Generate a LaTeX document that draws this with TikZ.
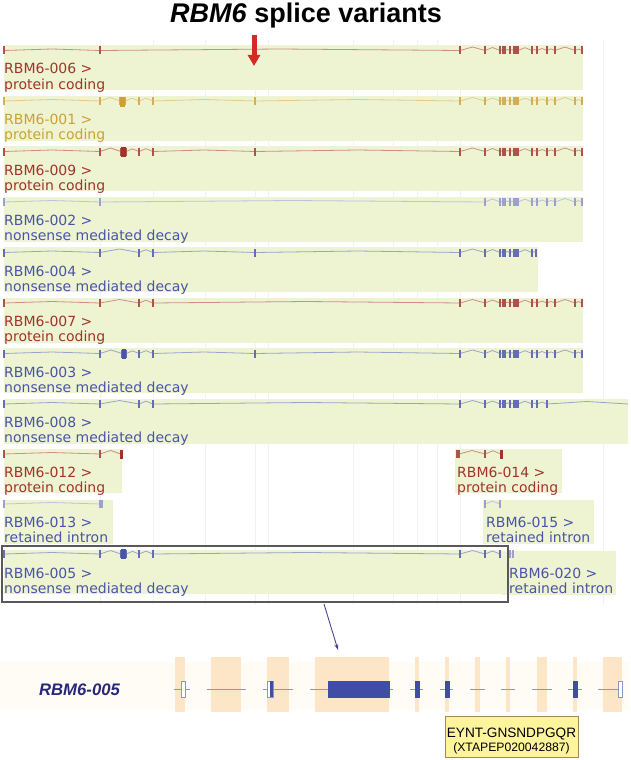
\documentclass[tikz,border=0pt]{standalone}
\usepackage{fontspec}
\setmainfont{DejaVu Sans}
\newfontfamily\arialf{Liberation Sans}
\usetikzlibrary{arrows.meta}
\definecolor{bg}{HTML}{EEF4D2}
\definecolor{pc}{HTML}{A0342C}
\definecolor{gd}{HTML}{CDA033}
\definecolor{nb}{HTML}{4A54A6}
\colorlet{nbl}{nb!65}
\definecolor{peach}{HTML}{FDE5C7}
\definecolor{band}{HTML}{FFFCF5}
\definecolor{navy}{HTML}{28287A}
\definecolor{lblue}{HTML}{8C94C8}
\definecolor{dblue}{HTML}{3F4DA6}
\definecolor{labfill}{HTML}{FDF49C}
\definecolor{labdraw}{HTML}{A88850}
\definecolor{arrred}{HTML}{D42A24}
\tikzset{
  rowbox/.style={fill=bg, draw=none},
  rowtext/.style={anchor=base west, inner sep=0pt, font=\fontsize{14}{16}\selectfont},
  grid line/.style={draw=black!5, line width=0.6},
  peachcol/.style={fill=peach, draw=none},
  strand/.style={draw=lblue, line width=0.9},
  cds/.style={fill=dblue, draw=dblue, line width=0.4},
  utr/.style={fill=white, draw=lblue, line width=0.8},
}
\newcommand\track[4]{%
  \foreach \xx [remember=\xx as \px (initially #3)] in {#4} {
    \pgfmathsetmacro\dd{\xx-\px}
    \pgfmathsetmacro\hh{(\dd>60)?1.5:min(3.5,\dd/5)}
    \draw[#2!55, line width=0.8] (\px,#1) -- ({(\px+\xx)/2},#1-\hh) -- (\xx,#1);
  }
  \foreach \xx in {#3,#4} \draw[#2!85, line width=1.1] (\xx,#1-4) -- (\xx,#1+4);
}
\begin{document}
\begin{tikzpicture}[x=1pt,y=-1pt]
\useasboundingbox (0,0) rectangle (630,760);
% faint background grid
\foreach \gx in {100,153,205,255,268,353,393,417,437,460,603}
  \draw[grid line] (\gx,40) -- (\gx,605);
% title
\node[anchor=base, inner sep=0pt, font=\arialf\bfseries\fontsize{27}{30}\selectfont] (title) at (306,23) {\textit{RBM6} splice variants};

% ---------- Row 1: 006 ----------
\fill[rowbox] (4,45) rectangle (583,90);
\track{50.5}{pc}{4}{100,460,485,500,503,505,510,514,516,518,532,537,547,555,575,582}
\node[rowtext, text=pc] (n006) at (4,74) {RBM6-006 >};
\node[rowtext, text=pc] (t006) at (4,89) {protein coding};
\draw[arrred, line width=5, -{Triangle[width=12pt,length=11pt]}] (254,35) -- (254,66);

% ---------- Row 2: 001 ----------
\fill[rowbox] (4,95.5) rectangle (583,140.5);
\track{101}{gd}{4}{100,120,125,139,153,255,460,485,500,503,505,510,514,516,518,532,537,547,555,575,582}
\fill[gd] (120,97) rectangle (125,107);
\node[rowtext, text=gd] (n001) at (4,124.5) {RBM6-001 >};
\node[rowtext, text=gd] (t001) at (4,139.5) {protein coding};

% ---------- Row 3: 009 ----------
\fill[rowbox] (4,146) rectangle (583,191);
\track{151.5}{pc}{4}{100,121,126,139,153,255,460,485,500,503,505,510,514,516,518,532,537,547,555,575,582}
\fill[pc] (121,147) rectangle (126,157);
\node[rowtext, text=pc] (n009) at (4,175) {RBM6-009 >};
\node[rowtext, text=pc] (t009) at (4,190) {protein coding};

% ---------- Row 4: 002 ----------
\fill[rowbox] (4,196.5) rectangle (583,241.5);
\track{202}{nbl}{4}{100,485,500,503,505,510,514,516,518,532,537,547,555,575,582}
\node[rowtext, text=nb] (n002) at (4,225.5) {RBM6-002 >};
\node[rowtext, text=nb] (t002) at (4,240.5) {nonsense mediated decay};

% ---------- Row 5: 004 ----------
\fill[rowbox] (4,247) rectangle (538,292);
\track{252.5}{nb}{4}{100,139,153,255,460,485,500,503,505,510,514,516,518,532,536}
\node[rowtext, text=nb] (n004) at (4,276) {RBM6-004 >};
\node[rowtext, text=nb] (t004) at (4,291) {nonsense mediated decay};

% ---------- Row 6: 007 ----------
\fill[rowbox] (4,297.5) rectangle (583,342.5);
\track{303}{pc}{4}{100,139,153,460,485,500,503,505,510,514,516,518,532,537,547,555,575,582}
\node[rowtext, text=pc] (n007) at (4,326.5) {RBM6-007 >};
\node[rowtext, text=pc] (t007) at (4,341.5) {protein coding};

% ---------- Row 7: 003 ----------
\fill[rowbox] (4,348) rectangle (583,393);
\track{353.5}{nb}{4}{100,122,126,139,153,255,460,485,500,503,505,510,514,516,518,532,537,547,555,575,582}
\fill[nb] (122,349) rectangle (126,359);
\node[rowtext, text=nb] (n003) at (4,377) {RBM6-003 >};
\node[rowtext, text=nb] (t003) at (4,392) {nonsense mediated decay};

% ---------- Row 8: 008 ----------
\fill[rowbox] (4,398.5) rectangle (628,443.5);
\track{404}{nb}{4}{100,139,153,460,485,500,503,505,510,514,516,518,532,537,547}
\draw[nb!55, line width=0.8] (547,404) -- (587,401.5) -- (628,404);
\node[rowtext, text=nb] (n008) at (4,427.5) {RBM6-008 >};
\node[rowtext, text=nb] (t008) at (4,442.5) {nonsense mediated decay};

% ---------- Row 9: 012 / 014 ----------
\fill[rowbox] (4,449) rectangle (122,493);
\track{454}{pc}{4}{100,121}
\fill[pc] (120,449.5) rectangle (122.5,459);
\node[rowtext, text=pc] (n012) at (4,477) {RBM6-012 >};
\node[rowtext, text=pc] (t012) at (4,492) {protein coding};
\fill[rowbox] (455,449) rectangle (562,493);
\track{454}{pc}{457}{459,485,501}
\fill[pc] (500,449.5) rectangle (502.5,459);
\node[rowtext, text=pc] (n014) at (457,477) {RBM6-014 >};
\node[rowtext, text=pc] (t014) at (457,492) {protein coding};

% ---------- Row 10: 013 / 015 ----------
\fill[rowbox] (4,499.5) rectangle (113,543.5);
\track{504}{nbl}{4}{100,102}
\node[rowtext, text=nb] (n013) at (4,527.5) {RBM6-013 >};
\node[rowtext, text=nb] (t013) at (4,542.5) {retained intron};
\fill[rowbox] (483,499.5) rectangle (594,543.5);
\track{504}{nbl}{485}{500}
\node[rowtext, text=nb] (n015) at (486,527.5) {RBM6-015 >};
\node[rowtext, text=nb] (t015) at (486,542.5) {retained intron};

% ---------- Row 11: 005 / 020 ----------
\fill[rowbox] (502,550.5) rectangle (616,595);
\track{554}{nbl}{510}{513}
\node[rowtext, text=nb] (n020) at (509,578) {RBM6-020 >};
\node[rowtext, text=nb] (t020) at (509,593) {retained intron};
\fill[rowbox] (4,549.5) rectangle (502,593.5);
\track{554}{nb}{4}{100,121,126,139,153,460,485,500}
\fill[nb] (121,549) rectangle (126,559);
\node[rowtext, text=nb] (n005) at (4,578) {RBM6-005 >};
\node[rowtext, text=nb] (t005) at (4,593) {nonsense mediated decay};
\node[draw=black!65, line width=1.3, inner sep=0pt, minimum width=506pt, minimum height=56pt] (sel) at (255,574) {};

% ---------- zoomed transcript ----------
\fill[band] (0,662) rectangle (630,710);
\foreach \a/\b in {175/185,211/241,267/289,315/389,415/419,445/449,475/480,506/510,537/547,573/577,603/622}
  \fill[peachcol] (\a,657) rectangle (\b,712);
\coordinate (selfoot) at (324,604);
\coordinate (big) at (338,650);
\draw[navy!85, line width=0.9, -{Stealth[length=6pt,width=4pt]}] (selfoot) -- (big);
\foreach \a/\b in {174/190,207/246,263/293,310/393,410/423,440/453,470/485,501/515,532/552,568/582,598/622}
  \draw[strand] (\a,689) -- (\b,689);
\draw[utr] (181,681) rectangle (185,697);
\draw[utr] (618,681) rectangle (622,697);
\draw[utr] (267,681) rectangle (273,697);
\fill[dblue] (270,681) rectangle (273,697);
\draw[cds] (328,681) rectangle (389,697);
\draw[cds] (415,681) rectangle (419,697);
\draw[cds] (445,681) rectangle (449,697);
\draw[cds] (573,681) rectangle (577,697);
\node[font=\arialf\bfseries\itshape\fontsize{16.7}{19}\selectfont, text=navy, inner sep=0pt] (lab005) at (79.5,690) {RBM6-005};
\node[draw=labdraw, fill=labfill, line width=0.9, minimum width=133pt, minimum height=41pt, inner sep=0pt] (pep) at (511.5,736.5) {};
\node[anchor=base, inner sep=0pt, font=\arialf\fontsize{13.6}{15}\selectfont] (pep1) at (511.5,737) {EYNT-GNSNDPGQR};
\node[anchor=base, inner sep=0pt, font=\arialf\fontsize{12.2}{14}\selectfont] (pep2) at (511.5,751) {(XTAPEP020042887)};
\end{tikzpicture}
\end{document}
